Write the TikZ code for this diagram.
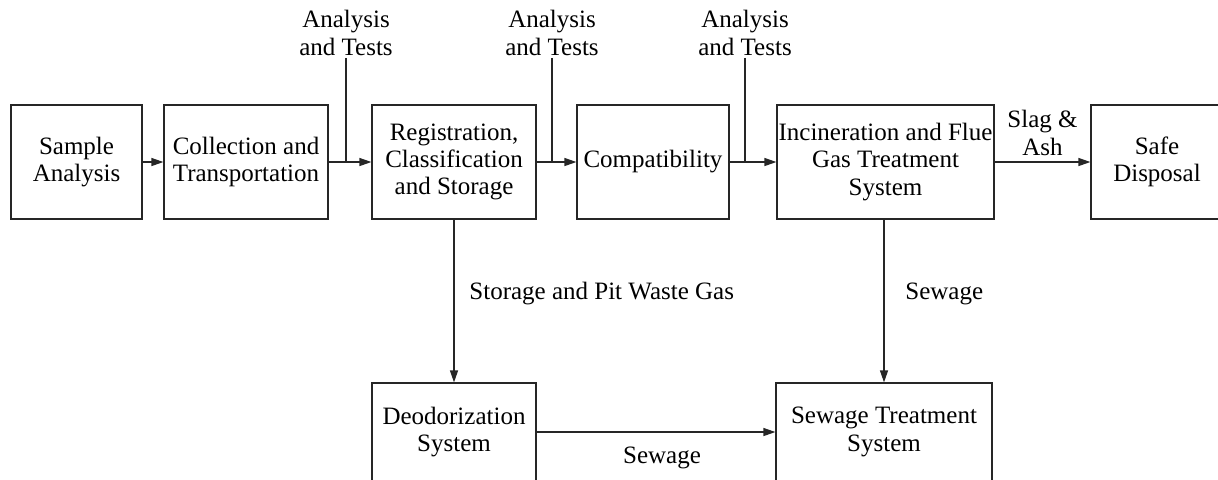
\documentclass[tikz,border=0pt]{standalone}
\usepackage{fontspec}
\setmainfont{Liberation Serif}
\usetikzlibrary{arrows.meta}
\begin{document}
\begin{tikzpicture}[x=0.5pt,y=-0.5pt,
  font=\fontsize{12.5}{13.6}\selectfont,
  box/.style={draw=black!85,line width=0.6pt,align=center,inner sep=0pt,
    minimum height=57pt},
  lbl/.style={align=center,inner sep=1pt},
  flow/.style={draw=black!85,line width=0.6pt,-{Triangle[length=6pt,width=4pt]}},
  feed/.style={draw=black!85,line width=0.6pt}]
\useasboundingbox (0,0) rectangle (1218,479);
\clip (0,0) rectangle (1218,479);
% top row
\node[box,minimum width=65.5pt] (sa) at (76.5,162) {Sample\\Analysis};
\node[box,minimum width=82pt] (ct) at (246,162) {Collection and\\Transportation};
\node[box,minimum width=82pt] (rc) at (454,162) {Registration,\\Classification\\and Storage};
\node[box,minimum width=76pt] (cp) at (653,162) {Compatibility};
\node[box,minimum width=108.5pt] (in) at (885.5,162) {Incineration and Flue\\Gas Treatment\\System};
\node[box,minimum width=66pt] (sd) at (1157,162) {Safe\\Disposal};
% bottom row
\node[box,minimum width=82pt,minimum height=49pt] (de) at (454,432) {Deodorization\\System};
\node[box,minimum width=108pt,minimum height=49pt] (st) at (884,432) {Sewage Treatment\\System};
% analysis labels
\node[lbl] (a1) at (346,33) {Analysis\\and Tests};
\node[lbl] (a2) at (552,33) {Analysis\\and Tests};
\node[lbl] (a3) at (745,33) {Analysis\\and Tests};
\coordinate (j1) at (346,162);
\coordinate (j2) at (552,162);
\coordinate (j3) at (745,162);
% flows
\draw[flow] (sa) -- (ct);
\draw[flow] (ct) -- (rc);
\draw[flow] (rc) -- (cp);
\draw[flow] (cp) -- (in);
\draw[flow] (in) -- node[lbl,above=2pt] {Slag \&\\Ash} (sd);
\draw[feed] (a1.south) -- (j1);
\draw[feed] (a2.south) -- (j2);
\draw[feed] (a3.south) -- (j3);
\draw[flow] (rc) -- (de);
\draw[flow] (in.south -| st.north) -- (st);
\draw[flow] (de) -- (st);
% labels
\node[lbl,anchor=west] (l1) at (467,294) {Storage and Pit Waste Gas};
\node[lbl,anchor=west] (l2) at (903,294) {Sewage};
\node[lbl] (l3) at (662,458) {Sewage};
\end{tikzpicture}
\end{document}
